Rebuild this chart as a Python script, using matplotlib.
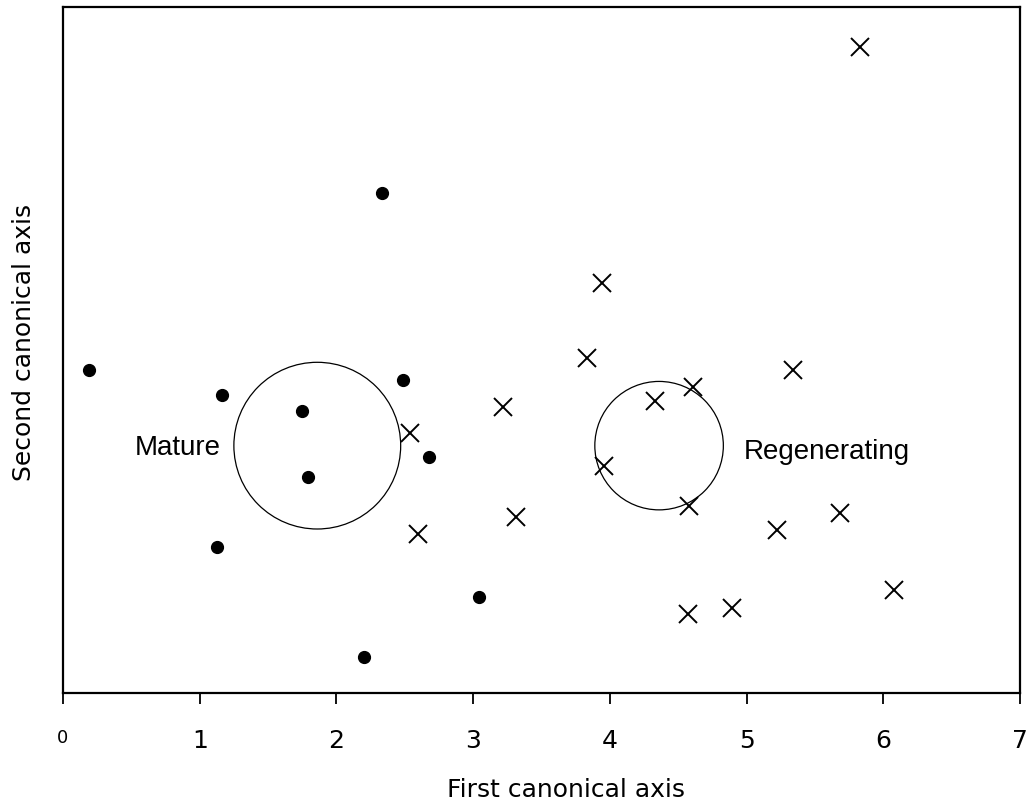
import numpy as np
import matplotlib.pyplot as plt
from matplotlib.patches import Circle

# mature stands (filled dots)
mature_x = [0.19, 1.16, 2.33, 1.75, 1.79, 2.49, 2.68, 1.13, 3.04, 2.20]
mature_y = [2.36, 2.18, 3.66, 2.06, 1.58, 2.29, 1.73, 1.07, 0.70, 0.26]

# regenerating stands (crosses)
regen_x = [5.83, 3.94, 3.83, 5.34, 4.61, 4.33, 3.22, 2.54, 3.96, 4.58,
           3.31, 2.60, 5.22, 5.68, 6.08, 4.89, 4.57]
regen_y = [4.73, 3.00, 2.45, 2.36, 2.24, 2.14, 2.09, 1.90, 1.66, 1.37,
           1.29, 1.16, 1.19, 1.32, 0.75, 0.62, 0.58]

# group centroids / radii
centres = [(1.86, 1.81), (4.36, 1.81)]
radii = [0.61, 0.47]

xticks = [0, 1, 2, 3, 4, 5, 6, 7]

fig = plt.figure(figsize=(10.34, 8.07), dpi=100)
ax = fig.add_axes([0.0609, 0.1413, 0.9256, 0.850])

ax.plot(mature_x, mature_y, 'o', color='black', markersize=8.5, linestyle='none')
ax.plot(regen_x, regen_y, 'x', color='black', markersize=13, markeredgewidth=1.4,
        linestyle='none')

for (cx, cy), r in zip(centres, radii):
    ax.add_patch(Circle((cx, cy), r, fill=False, edgecolor='black', linewidth=0.9))

ax.text(0.84, 1.79, "Mature", fontsize=20, family='Liberation Sans',
        ha='center', va='center')
ax.text(5.585, 1.76, "Regenerating", fontsize=20, family='Liberation Sans',
        ha='center', va='center')

ax.set_xlim(0, 7)
ax.set_ylim(0, 5.02)
ax.set_xticks(xticks)
ax.set_xticklabels([str(t) for t in xticks], fontsize=18)
ax.get_xticklabels()[0].set_fontsize(13)
ax.set_yticks([])
ax.tick_params(axis='x', direction='out', length=8, width=1.3, pad=18)
for s in ax.spines.values():
    s.set_linewidth(1.6)

fig.text(0.547, 0.021, "First canonical axis", fontsize=18, ha='center', va='center')
fig.text(0.023, 0.576, "Second canonical axis", fontsize=18, rotation=90,
         ha='center', va='center')

fig.savefig("out.png", dpi=100)
